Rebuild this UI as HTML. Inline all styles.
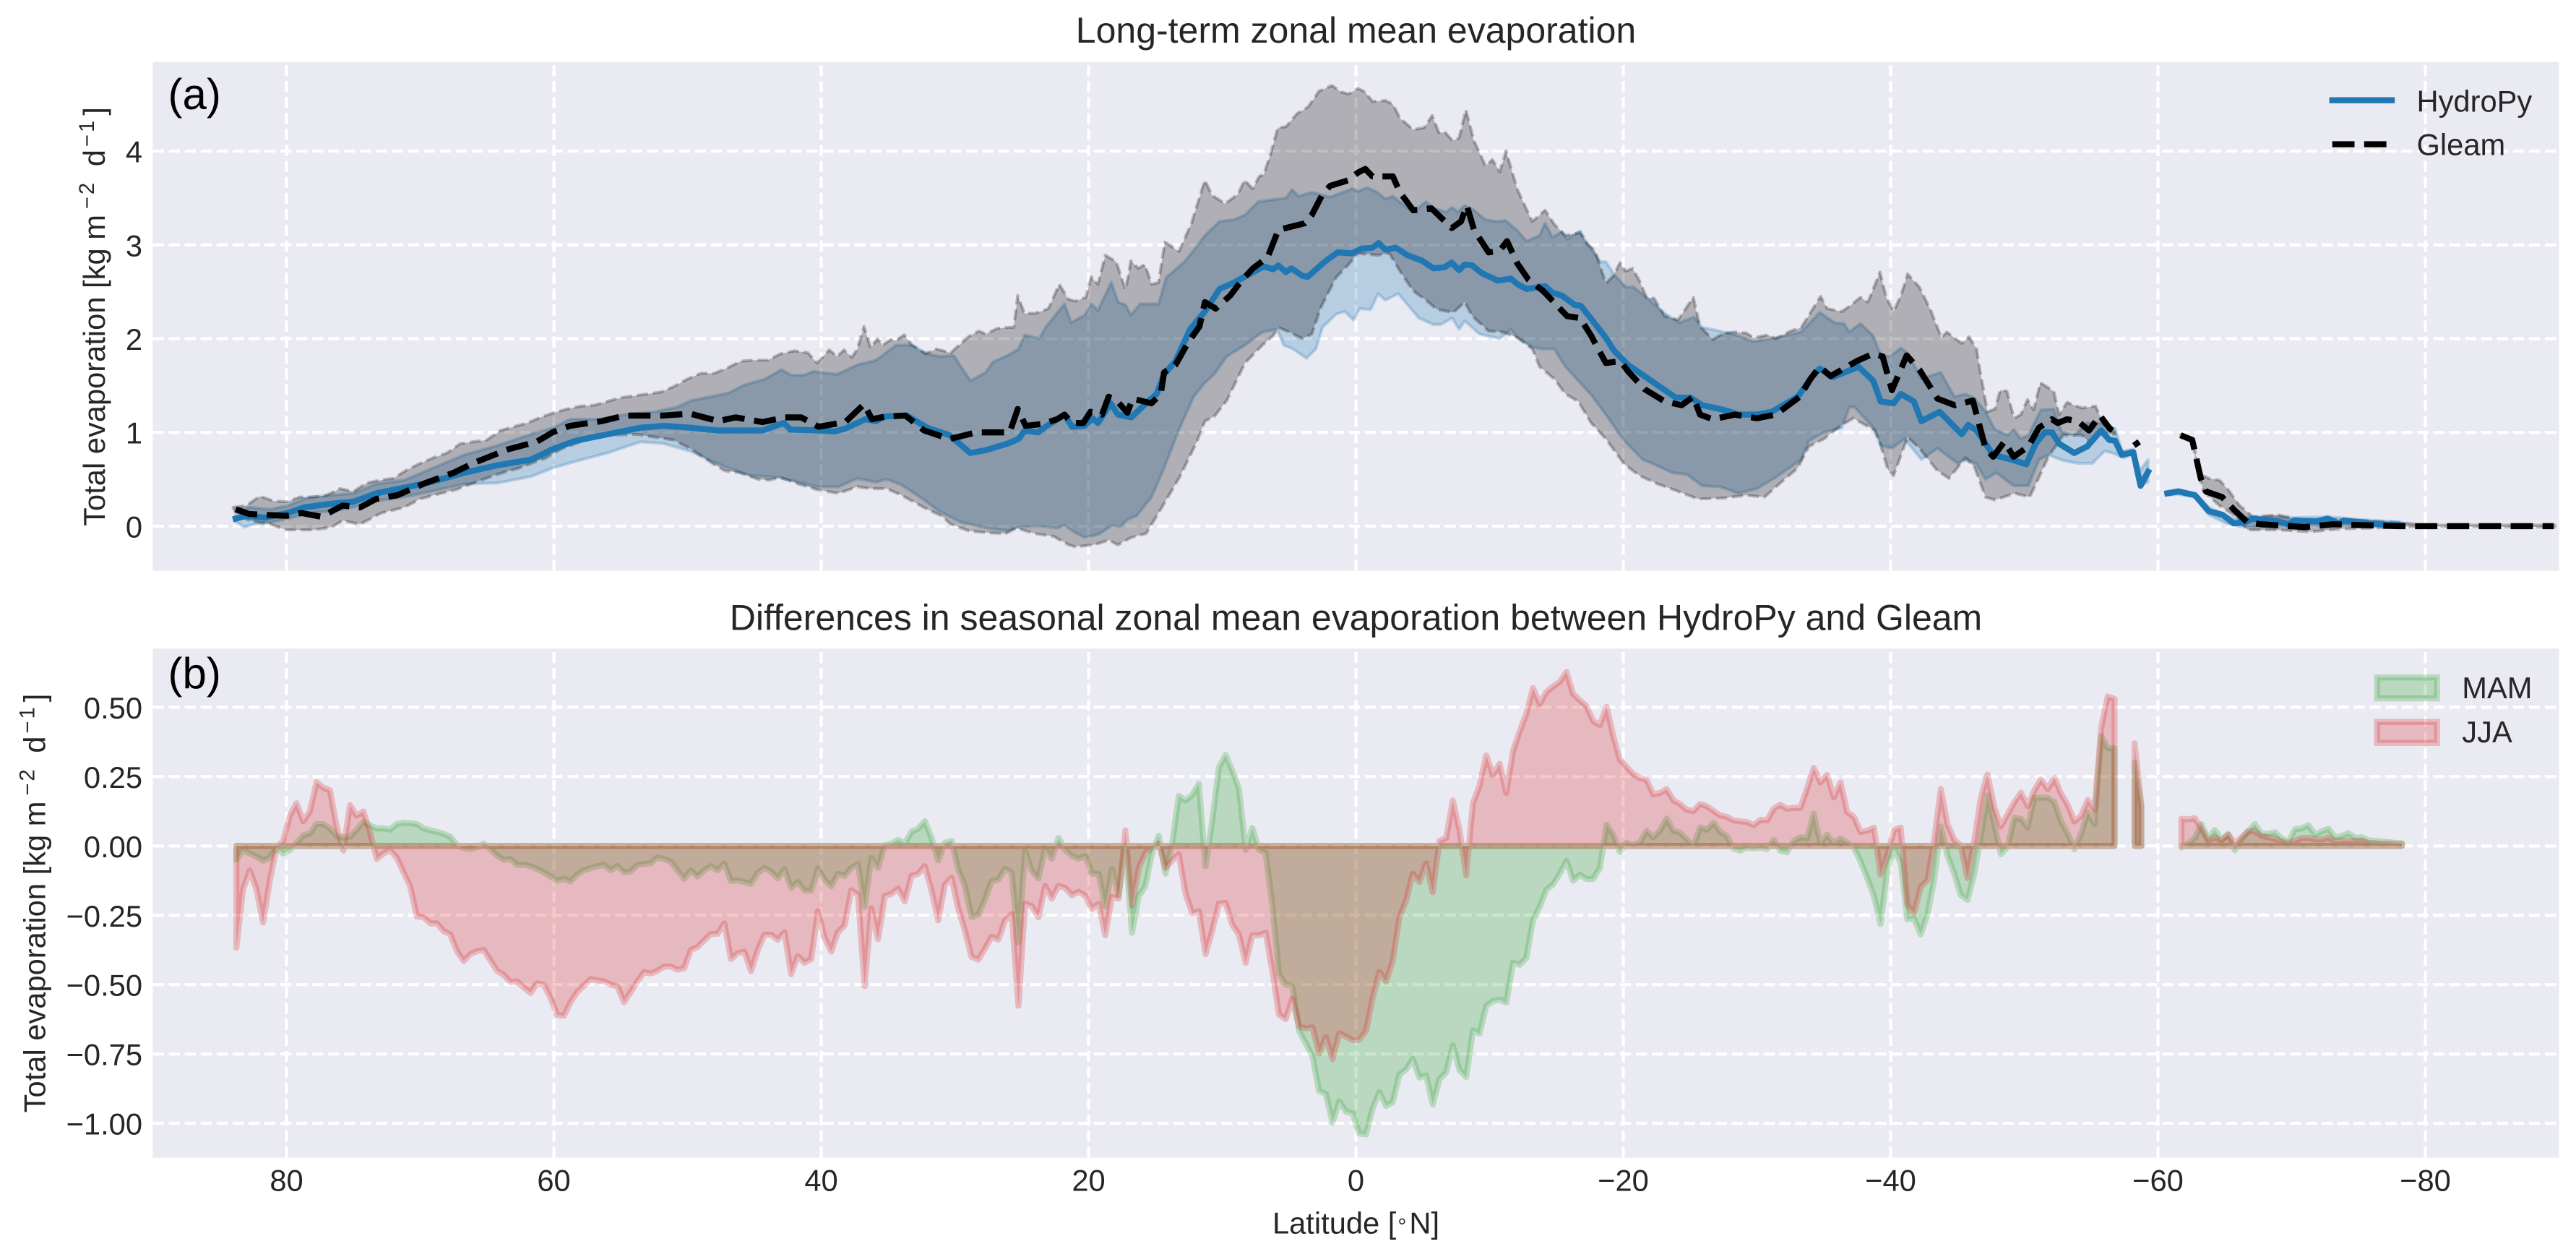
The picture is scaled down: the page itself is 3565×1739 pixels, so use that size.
<!DOCTYPE html>
<html lang="en">
<head>
<meta charset="utf-8">
<title>Zonal mean evaporation</title>
<style>
html,body{margin:0;padding:0;background:#fff}
svg{display:block}
text{font-family:"Liberation Sans",sans-serif;fill:#262626}
</style>
</head>
<body>
<svg id="fig" xmlns="http://www.w3.org/2000/svg" width="3565" height="1739" viewBox="0 0 3565 1739">
  <rect x="0" y="0" width="3565" height="1739" fill="#ffffff"/>
  <rect x="211.5" y="85.8" width="3330" height="704" fill="#eaeaf2"/>
  <rect x="211.5" y="897.4" width="3330" height="704.2" fill="#eaeaf2"/>
  <g id="gridA"></g>
  <g id="gridB"></g>
  <g id="marksA"></g>
  <g id="marksB"></g>
  <g id="ticks"></g>

  <text x="1876.5" y="59" font-size="50" text-anchor="middle">Long-term zonal mean evaporation</text>
  <text x="1876.5" y="871.5" font-size="50" text-anchor="middle">Differences in seasonal zonal mean evaporation between HydroPy and Gleam</text>
  <text x="232.5" y="151" font-size="60" style="fill:#000">(a)</text>
  <text x="232.5" y="952" font-size="60" style="fill:#000">(b)</text>
  <text transform="translate(145,438) rotate(-90)" font-size="41.67" text-anchor="middle">Total evaporation [kg m<tspan font-size="29.2" dy="-15" dx="8" style="letter-spacing:3px">−2</tspan><tspan dy="15" dx="8"> d</tspan><tspan font-size="29.2" dy="-15" dx="4" style="letter-spacing:3px">−1</tspan><tspan dy="15" dx="4">]</tspan></text>
  <text transform="translate(62.5,1249.5) rotate(-90)" font-size="41.67" text-anchor="middle">Total evaporation [kg m<tspan font-size="29.2" dy="-15" dx="8" style="letter-spacing:3px">−2</tspan><tspan dy="15" dx="8"> d</tspan><tspan font-size="29.2" dy="-15" dx="4" style="letter-spacing:3px">−1</tspan><tspan dy="15" dx="4">]</tspan></text>
  <text x="1876.5" y="1706.5" font-size="41.67" text-anchor="middle">Latitude [<tspan font-size="30" dx="2">°</tspan><tspan dx="4">N</tspan>]</text>

  <g>
    <line x1="3227.7" x2="3310" y1="138.7" y2="138.7" stroke="#1f77b4" stroke-width="8.33" stroke-linecap="square"/>
    <text x="3344.5" y="154.5" font-size="41.67">HydroPy</text>
    <line x1="3227.7" x2="3310" y1="199.6" y2="199.6" stroke="#000" stroke-width="8.33" stroke-dasharray="30.8 13.3"/>
    <text x="3344.5" y="214.5" font-size="41.67">Gleam</text>
  </g>
  <g>
    <rect x="3289.7" y="937.2" width="83" height="29" fill="#2ca02c" fill-opacity=".25" stroke="#2ca02c" stroke-opacity=".25" stroke-width="8.33"/>
    <text x="3407.3" y="966.2" font-size="41.67">MAM</text>
    <rect x="3289.7" y="998.7" width="83" height="29" fill="#d62728" fill-opacity=".25" stroke="#d62728" stroke-opacity=".25" stroke-width="8.33"/>
    <text x="3407.3" y="1027" font-size="41.67">JJA</text>
  </g>
</svg>

<script>
/* ---------- tick labels ---------- */
const latTicks = [80, 60, 40, 20, 0, -20, -40, -60, -80];
const yTicksA = [0, 1, 2, 3, 4];
const yTicksB = [0.5, 0.25, 0, -0.25, -0.5, -0.75, -1];

/* ---------- panel (a): Gleam upper band ---------- */
const gleamUpperLat = [
84,83,82,81,80,79,78,77,76,75,
74,73,72,71,70,69,68,67,66,65,
64,63,62,61,60,59,58,57,56,55,
54,53,52,51,50,49,48,47,46,45,
44,43,42,41,40.3,39.4,38.8,38.3,37.7,37.3,
36.8,36.3,35.8,35.4,34.8,34.4,33.8,33.2,32.2,31.4,
30.3,29.7,28.9,28.2,27.7,26.8,26,25.6,25.3,24.8,
24,23,22.2,21.5,21,20.2,19.8,19.3,18.75,17.93,
17.24,16.83,16.28,15.8,15.26,14.76,14.3,13.24,12.28,11.31,
10.76,9.79,8.83,8.33,7.72,7.23,6.9,6.34,5.85,5.24,
4.41,3.59,2.76,1.79,1.1,.55,-.14,-.69,-1.24,-2.2,
-2.76,-3.31,-4.28,-5.1,-5.71,-6.2,-6.68,-7.23,-7.72,-8.22,
-8.83,-9.71,-10.2,-10.76,-11.23,-12.08,-12.63,-13.19,-14.15,-14.84,
-15.67,-16.77,-17.32,-17.88,-18.7,-19.26,-19.75,-20.2,-20.7,-21.2,
-21.74,-22.3,-23.1,-24.1,-25.24,-25.74,-26.7,-27.53,-28.36,-29.2,
-29.74,-30.84,-31.39,-32.5,-33.32,-33.88,-34.76,-35.26,-36.36,-37.05,
-37.74,-38.3,-39.2,-39.67,-40.22,-40.77,-41.27,-42.15,-42.98,-43.8,
-44.2,-45.32,-45.87,-46.43,-46.7,-47.25,-47.8,-48.2,-48.7,-49.24,
-49.74,-50.24,-50.7,-51.2,-52.2,-52.6,-53.2,-54.3,-55.33,-55.95,
-56.8,null,-61.7,-62.56,-63.2,-63.8,-64.6,-65.25,-66.1,-67.1,
-69,-70.2,-71.86,-73.1,-75.2,-78,-80.1,-89.7];
const gleamUpperVal = [
.2,.22,.32,.27,.26,.31,.31,.33,.40,.37,
.46,.49,.51,.60,.67,.73,.78,.88,.90,.92,
1.02,1.06,1.10,1.16,1.21,1.25,1.28,1.29,1.33,1.37,
1.39,1.41,1.43,1.49,1.57,1.63,1.63,1.69,1.76,1.77,
1.77,1.84,1.87,1.85,1.74,1.88,1.81,1.88,1.8,1.89,
2.13,1.9,2,1.93,1.99,1.98,2.04,1.93,1.84,1.89,
1.85,1.93,2.03,2.08,2.05,2.11,2.12,2.12,2.46,2.27,
2.27,2.32,2.58,2.42,2.40,2.44,2.66,2.58,2.89,2.82,
2.52,2.83,2.75,2.79,2.58,2.6,3.03,2.93,3.24,3.69,
3.53,3.44,3.54,3.69,3.6,3.73,3.75,3.99,4.25,4.26,
4.40,4.47,4.64,4.70,4.63,4.61,4.67,4.63,4.53,4.54,
4.5,4.35,4.23,4.25,4.38,4.2,4.2,4.11,4.14,4.44,
4.11,3.84,3.91,3.78,4.0,3.59,3.42,3.25,3.37,3.22,
3.1,3.13,3.01,2.94,2.59,2.67,2.81,2.72,2.75,2.62,
2.44,2.43,2.24,2.2,2.44,2.13,1.99,2.06,2.07,2.06,
2.01,2.04,2.0,2.08,2.12,2.25,2.45,2.32,2.29,2.36,
2.44,2.39,2.71,2.44,2.29,2.46,2.69,2.55,2.31,2.01,
2.07,1.95,2.02,1.89,1.65,1.22,1.25,1.45,1.44,1.15,
1.19,1.35,1.24,1.53,1.44,1.19,1.32,1.26,1.28,1.08,
1.0,null,.98,.92,.55,.51,.49,.39,.22,.10,
.12,.08,.06,.07,.06,.04,.01,.01];

/* ---------- panel (a): Gleam lower band ---------- */
const gleamLowerLat = [
83.8,82.8,81.2,80,78,76.6,75.8,74.5,72.9,71.2,
70,68.98,67.3,66.2,64.3,62.6,61.3,60.7,59.34,57.4,
55.76,53.83,51.07,49.7,48.04,47.2,46.1,44.74,43.9,43.1,
41.7,40.33,38.7,37.3,36.34,35.1,34,32.07,31,30.3,
28.97,27.6,26.2,25.4,24,22.6,21.5,21,19.6,18.5,
17.8,16.8,15.7,14.6,13.2,11.9,11.3,10.6,9.66,8.3,
7,6.2,5.8,5,4,3.3,2.6,1.5,.55,-.14,
-1.66,-2.5,-3.3,-4.28,-5.24,-6.07,-7.3,-8.14,-8.7,-9.93,
-11,-12.08,-13.2,-13.74,-14.84,-15.67,-16.63,-17.6,-18.7,-20.08,
-21.2,-22.57,-23.94,-25.6,-27.53,-29.2,-30.56,-31.67,-33.05,-33.88,
-35,-36.36,-37.2,-38.84,-39.26,-39.8,-40.22,-41.27,-42.15,-43.5,
-44.36,-45.6,-46.3,-47.1,-47.8,-49.3,-50.4,-50.97,-51.8,-52.9,
-54.3,-55,-55.7,-56.8,null,-61.7,-62.56,-63,-63.4,-64.6,
-65.66,-66.7,-69,-71.45,-73.5,-76,-78,-80,-89.7];
const gleamLowerVal = [
.14,.06,.02,-.04,-.04,-.01,.06,.02,.14,.2,
.29,.33,.39,.45,.55,.62,.69,.72,.83,.93,
.97,.98,.92,.82,.66,.59,.57,.5,.49,.52,
.45,.39,.35,.42,.40,.40,.33,.18,.11,.02,
-.05,-.07,-.08,-.02,-.08,-.11,-.2,-.22,-.2,-.15,
-.2,-.12,-.08,.18,.52,.9,1.12,1.17,1.34,1.74,
1.93,2.03,2.12,2.07,2.0,2.05,2.34,2.65,2.79,2.91,
2.89,2.91,2.72,2.51,2.41,2.31,2.28,2.39,2.24,2.08,
2.07,2.01,1.89,1.7,1.57,1.41,1.33,1.1,.93,.66,
.54,.45,.38,.29,.30,.33,.31,.45,.62,.85,
.93,1.08,1.15,1.02,.86,.6,.54,.95,.83,.59,
.51,.73,.62,.31,.28,.35,.31,.48,.74,.97,
.97,.88,1.0,.98,null,.95,.9,.59,.37,.22,
.12,-.04,-.04,-.06,-.03,-.02,-.01,0,-.01];

/* ---------- panel (a): HydroPy upper band ---------- */
const hydroUpperLat = [
83.8,82.8,81.2,79.9,78.3,76.6,75,73.3,71.2,69.2,
66.7,64.2,61.7,60,58.8,56.6,54.66,52.45,50.8,49.7,
48.3,46.94,45.84,44.2,42.97,42.26,41.3,40.6,38.8,37.3,
35.9,34.4,33.17,32.07,31.2,30.1,28.83,27.7,27.17,26.07,
25.24,24.77,23.7,23.17,21.8,21.3,20.3,19.8,19.3,18.3,
17.8,17.24,16.83,16.14,15.3,14.76,14.2,12.83,12.14,11.3,
10.2,9.1,8.3,7.3,6.34,5.24,4.77,4.3,3.3,1.93,
.28,-.14,-.83,-1.5,-2.2,-2.76,-3.6,-4.28,-5.24,-5.8,
-6.76,-7.17,-7.6,-8.14,-8.83,-9.66,-10.5,-11.2,-12.08,-12.77,
-13.74,-14.15,-14.7,-15.4,-15.8,-16.77,-17.32,-18.3,-18.7,-19.4,
-20.2,-20.77,-21.74,-23.1,-24.2,-25.3,-25.9,-27.25,-28.36,-29.74,
-31.1,-33.3,-34.7,-35.8,-36.5,-36.9,-37.74,-38.7,-39.26,-39.94,
-40.77,-41.3,-42.3,-43.75,-44.77,-45.6,-46.3,-47.1,-47.8,-48.77,
-49.2,-49.74,-50.3,-51.25,-52.2,-52.8,-53.74,-54.7,-55.74,-56.8,
-57.3,-58.15,-58.65,-59.26,null,-60.7,-61.53,-62.77,-63.8,-65.66,
-67.1,-69,-70.2,-72.7,-75.2,-78.25];
const hydroUpperVal = [
.16,.2,.18,.22,.31,.33,.35,.45,.49,.61,
.76,.86,.98,1.05,1.14,1.14,1.19,1.22,1.27,1.34,
1.38,1.42,1.5,1.57,1.67,1.61,1.61,1.65,1.62,1.72,
1.77,1.93,1.93,1.84,1.81,1.82,1.55,1.64,1.75,1.82,
1.89,2.04,2.0,2.13,2.37,2.17,2.25,2.37,2.3,2.6,
2.39,2.36,2.25,2.37,2.37,2.37,2.65,2.82,2.94,3.1,
3.25,3.27,3.32,3.46,3.48,3.5,3.59,3.52,3.56,3.51,
3.6,3.57,3.61,3.57,3.49,3.52,3.42,3.35,3.46,3.39,
3.35,3.4,3.35,3.42,3.37,3.27,3.25,3.26,3.15,3.04,
3.1,3.23,3.08,3.14,3.06,3.15,3.01,2.82,2.82,2.67,
2.55,2.55,2.44,2.27,2.17,2.23,2.12,2.08,2.04,1.97,
2.0,2.07,2.28,2.17,2.16,2.07,2.16,2.03,1.82,1.81,
1.9,1.84,1.57,1.64,1.38,1.41,1.36,1.22,1.03,.97,
1.03,.93,.97,1.24,1.25,1.0,.97,1.1,1.1,1.04,
.8,.82,.59,.71,null,.37,.39,.35,.2,.08,
.1,.1,.09,.1,.07,.04];

/* ---------- panel (a): HydroPy lower band ---------- */
const hydroLowerLat = [
83.8,83.2,82.4,81.2,79.9,78.3,76.6,75,73.3,71.2,
69.2,66.7,64.2,61.7,60.1,58.4,56,53.5,51.8,49.8,
48.3,46.94,45.3,43.2,41.7,40.33,38.7,37.3,35.9,35.1,
34,32.3,31.2,29.5,27.6,26.07,25.24,23.7,22.35,21.8,
21,20.3,19.3,18.2,17.66,17.1,16.4,15.3,14.35,13.24,
12.14,11.3,10.6,9.66,8.3,7,5.9,5.4,4.7,3.7,
3,2.5,1.5,.83,.2,-.28,-1.1,-1.66,-2.2,-3.17,
-4.7,-5.8,-6.34,-7.2,-7.72,-8.14,-9.24,-10.76,-11.6,-12.08,
-13.2,-14,-14.84,-15.67,-16.77,-17.6,-18.7,-20.08,-21.46,-22.3,
-23.67,-24.77,-25.9,-27.25,-28.63,-30,-31.4,-33.3,-33.88,-35,
-36.36,-36.9,-37.3,-38.7,-39.26,-40.1,-41.05,-42.3,-43.5,-45,
-45.74,-46.43,-47.1,-47.9,-49.2,-50.3,-51.1,-51.8,-52.9,-54,
-55.1,-56,-56.6,-57.4,-58.2,-58.65,-59.26,null,-60.7,-61.53,
-62.77,-63.8,-65.25,-66.5,-69,-71.86,-75.2,-78.25];
const hydroLowerVal = [
.05,-.01,.02,.04,.08,.14,.16,.2,.27,.31,
.37,.45,.46,.53,.62,.69,.78,.9,.88,.8,
.7,.62,.54,.52,.47,.42,.42,.51,.47,.5,
.44,.28,.16,.04,-.02,-.05,-.01,0,-.02,.01,
-.07,-.12,-.09,.01,-.01,.07,.11,.31,.62,1.03,
1.38,1.53,1.62,1.81,1.93,2.07,2.1,1.93,1.89,1.79,
1.89,2.12,2.26,2.29,2.2,2.32,2.31,2.48,2.41,2.48,
2.22,2.15,2.15,2.22,2.1,2.19,2.05,2.0,2.1,2.01,
1.91,1.89,1.89,1.7,1.53,1.4,1.19,.91,.71,.66,
.57,.55,.43,.42,.35,.4,.52,.71,.91,1.0,
1.05,1.27,1.27,1.05,.86,.83,.93,.71,.83,.67,
.71,.66,.5,.57,.43,.43,.71,.76,.7,.67,
.67,.8,.78,.73,.76,.43,.47,null,.33,.34,
.31,.12,.02,-.01,0,.01,.01,0];

/* ---------- panel (a): mean lines ---------- */
const hydroMeanLat = [
83.8,83,81.6,79.9,78.7,76.6,75,73.3,71.2,69.2,
66.7,64.2,61.7,60.1,58.4,56,53.5,51.8,49.8,47.7,
46,44.4,42.8,42.3,40.2,39,38.2,36.7,35.9,35.2,
33.6,32.07,30.4,28.85,27.7,26.07,25.24,24.77,23.8,22.9,
21.8,21.24,20.3,19.7,19.3,18.35,17.8,16.8,15.7,14.9,
14.35,13.5,12.4,11.3,10.2,9.1,6.9,6.2,5.8,5.24,
4.83,4,3.6,2.34,1.38,.28,-.4,-1.24,-1.7,-2.2,
-3,-3.86,-4.97,-5.8,-6.6,-7.17,-7.72,-8.14,-8.7,-9.4,
-10.6,-11.6,-12.1,-12.77,-14.15,-14.7,-15.4,-16.36,-16.83,-18.7,
-19.26,-20.36,-22.3,-23.94,-25.05,-25.9,-27.53,-28.63,-30,-31.1,
-33.05,-34.15,-34.7,-35.67,-37.6,-38.7,-39.26,-40.22,-40.77,-41.74,
-42.3,-43.67,-45.32,-45.8,-46.43,-47.67,-49.05,-50.15,-50.84,-51.53,
-52.08,-52.6,-53.74,-54.7,-55.74,-56.36,-56.8,-57.3,-58.15,-58.7,
-59.26,null,-60.7,-61.53,-62.77,-63.8,-64.84,-65.66,-66.5,-67.1,
-69,-69.8,-70.2,-71.86,-72.7,-73.5,-73.9,-75.2,-76.6,-78.25];
const hydroMeanVal = [
.08,.11,.09,.14,.2,.24,.26,.35,.41,.47,
.57,.65,.71,.82,.91,.98,1.05,1.07,1.05,1.02,
1.02,1.02,1.10,1.03,1.02,1.01,1.04,1.14,1.12,1.17,
1.18,1.05,.97,.78,.81,.88,.93,1.02,1.0,1.09,
1.19,1.06,1.07,1.15,1.10,1.31,1.19,1.16,1.31,1.41,
1.62,1.76,2.10,2.29,2.53,2.6,2.77,2.74,2.78,2.71,
2.75,2.67,2.66,2.82,2.92,2.91,2.96,2.97,3.02,2.95,
2.97,2.89,2.83,2.75,2.76,2.81,2.73,2.79,2.78,2.7,
2.62,2.64,2.58,2.53,2.56,2.49,2.46,2.36,2.35,2.01,
1.88,1.72,1.53,1.37,1.37,1.29,1.24,1.19,1.19,1.22,
1.38,1.6,1.68,1.59,1.70,1.55,1.33,1.31,1.41,1.33,
1.12,1.22,.98,1.08,1.02,.76,.71,.66,.88,1.0,
1.0,.88,.78,.85,1.02,.92,.91,.76,.79,.43,
.58,null,.35,.37,.33,.16,.12,.03,.04,.08,
.05,.02,.06,.05,.08,.03,.06,.04,.02,.01];

const gleamMeanLat = [
83.8,82.8,81.6,80,78.9,77.4,75.8,74.5,73.3,71.7,
69.6,67.5,65.9,63.4,61.3,60.1,58.8,56.4,54.7,51.8,
49.8,47.7,46.4,44.4,42.7,41.5,40.2,38.2,36.8,36.2,
35.2,33.7,32.3,30.4,28.4,25.9,25.3,24.7,23.45,22.35,
21.8,21.24,20.4,19.86,19,18.5,17.9,17.1,16.7,15.3,
14.6,14.35,13.5,12.55,11.7,11.3,10.5,9.4,8.55,7.7,
6.6,5.8,3.85,3.3,2.5,1.93,.55,-.14,-.7,-1.24,
-2.76,-3.3,-4.28,-5.65,-7.17,-7.86,-8.3,-8.83,-9.93,-10.76,
-11.3,-12.08,-12.9,-14,-15.8,-16.77,-17.6,-18.7,-19.8,-20.36,
-21.6,-23.1,-24.36,-25.24,-25.74,-26.7,-28.36,-30,-31.4,-33.2,
-34,-34.7,-35.5,-37.46,-38.7,-39.4,-40.1,-41.2,-42.15,-43.5,
-44.8,-46.15,-47.1,-47.67,-48.5,-49.2,-50.3,-51.1,-52.07,-52.5,
-53.2,-54,-54.84,-55.66,-56.4,-56.6,null,-58.2,-58.6,null,
-61.7,-62.56,-63.2,-63.6,-64.8,-65.66,-66.7,-67.7,-71,-73.1,
-78,-89.6];
const gleamMeanVal = [
.18,.13,.12,.11,.14,.10,.22,.2,.29,.33,
.46,.57,.68,.82,.90,1.0,1.07,1.12,1.18,1.18,
1.2,1.12,1.16,1.11,1.16,1.16,1.06,1.11,1.30,1.14,
1.17,1.18,1.02,.93,1.0,1.0,1.25,1.07,1.09,1.14,
1.19,1.1,1.1,1.22,1.19,1.38,1.34,1.21,1.36,1.31,
1.41,1.64,1.72,1.96,2.13,2.39,2.32,2.46,2.62,2.75,
2.87,3.16,3.23,3.32,3.54,3.63,3.69,3.77,3.81,3.73,
3.73,3.56,3.37,3.39,3.18,3.25,3.42,3.16,2.92,2.94,
3.04,2.8,2.63,2.51,2.24,2.22,2.03,1.74,1.76,1.65,
1.46,1.33,1.29,1.38,1.19,1.14,1.19,1.15,1.19,1.38,
1.57,1.70,1.6,1.76,1.84,1.81,1.45,1.82,1.67,1.36,
1.29,1.34,.83,.74,.9,.74,.85,1.05,1.14,1.1,
1.14,1.12,1.02,1.18,1.04,1.02,null,.86,.9,null,
.97,.92,.51,.37,.31,.18,.04,.02,-.01,.02,
0,0];

/* ---------- panel (b): seasonal differences, 0.5 degree latitude grid ---------- */
const latStartsB = [83.75, -58.25, -61.75];
const latStepB = 0.5;

const mamSouthOf84 = [
-.05,-.015,-.027,-.038,-.053,-.042,-.005,-.027,-.015,.01,
.038,.045,.079,.079,.063,.036,.03,.033,.059,.086,
.074,.063,.063,.059,.079,.083,.082,.079,.063,.056,
.051,.044,.033,.003,-.008,-.012,-.005,.008,-.012,-.035,
-.05,-.047,-.068,-.068,-.073,-.083,-.095,-.11,-.125,-.118,
-.128,-.103,-.088,-.08,-.073,-.068,-.088,-.073,-.095,-.092,
-.069,-.065,-.062,-.042,-.047,-.057,-.088,-.118,-.088,-.11,
-.088,-.073,-.088,-.063,-.127,-.124,-.13,-.136,-.097,-.079,
-.092,-.117,-.084,-.151,-.13,-.16,-.162,-.081,-.122,-.146,
-.1,-.108,-.079,-.065,-.219,-.043,-.079,.002,.008,.022,
.008,.051,.062,.089,.029,-.052,.011,.018,-.084,-.144,
-.257,-.248,-.192,-.127,-.122,-.082,-.097,-.349,-.019,-.09,
-.117,-.009,-.046,.029,-.014,-.036,-.046,-.036,-.1,-.1,
-.219,-.084,-.176,-.003,-.313,-.181,-.144,-.025,.037,-.1,
.008,.18,.164,.184,.224,-.073,.089,.283,.328,.272,
.207,-.014,.065,-.014,-.025,-.214,-.462,-.5,-.505,-.667,
-.711,-.759,-.883,-.894,-.997,-.921,-.957,-.964,-1.037,-1.04,
-.946,-.887,-.937,-.924,-.824,-.806,-.768,-.835,-.827,-.932,
-.84,-.816,-.719,-.808,-.833,-.665,-.676,-.576,-.559,-.554,
-.565,-.421,-.428,-.403,-.266,-.219,-.158,-.138,-.1,-.054,
-.125,-.104,-.119,-.119,-.079,.076,.04,-.022,.011,.002,
.013,.054,.031,.056,.099,.054,.048,.024,0,.067,
.058,.083,.051,.035,-.009,-.017,-.006,-.009,-.006,-.011,
.022,-.017,-.023,.018,.031,.027,.116,.008,.04,.008,
.027,.011,-.006,-.056,-.116,-.181,-.281,-.086,-.008,-.06,
-.264,-.261,-.319,-.247,-.125,.07,-.034,-.099,-.177,-.194,
-.103,.036,.183,.079,-.03,-.003,.101,.098,.066,.174,
.174,.174,.157,.088,.044,-.012,.044,.122,.079,.396,
.352,.352];
const mamNear58S = [.3,.14];
const mamSouthOf62 = [
-.006,.01,.027,.079,.027,.057,.023,.04,-.016,.023,
.053,.079,.044,.043,.049,.027,.014,.06,.063,.075,
.04,.053,.062,.031,.036,.046,.029,.031,.02,.018,
.016,.014,.011,.01];

const jjaSouthOf84 = [
-.367,-.156,-.088,-.156,-.276,-.125,-.005,.018,.109,.154,
.089,.124,.23,.21,.2,.07,-.017,.147,.109,.124,
.048,-.047,-.027,-.015,-.042,-.095,-.145,-.254,-.257,-.279,
-.279,-.307,-.319,-.379,-.415,-.39,-.379,-.375,-.412,-.45,
-.465,-.491,-.488,-.51,-.53,-.495,-.5,-.548,-.609,-.612,
-.563,-.526,-.503,-.48,-.485,-.488,-.5,-.506,-.563,-.526,
-.488,-.455,-.46,-.45,-.435,-.435,-.446,-.44,-.375,-.364,
-.34,-.317,-.317,-.279,-.408,-.387,-.381,-.451,-.376,-.32,
-.32,-.338,-.311,-.462,-.397,-.421,-.408,-.235,-.33,-.381,
-.311,-.286,-.16,-.176,-.505,-.225,-.336,-.181,-.173,-.154,
-.2,-.108,-.1,-.073,-.16,-.268,-.14,-.114,-.225,-.306,
-.4,-.41,-.37,-.327,-.338,-.268,-.246,-.576,-.208,-.217,
-.257,-.144,-.19,-.144,-.151,-.178,-.165,-.179,-.227,-.208,
-.322,-.184,-.19,.056,-.214,-.079,-.025,-.005,.008,-.079,
-.052,-.03,-.171,-.244,-.235,-.39,-.306,-.208,-.205,-.284,
-.32,-.421,-.322,-.322,-.313,-.451,-.608,-.624,-.551,-.651,
-.657,-.654,-.748,-.689,-.768,-.675,-.687,-.7,-.698,-.667,
-.549,-.454,-.489,-.414,-.257,-.198,-.1,-.13,-.063,-.167,
.018,.029,.164,.056,-.106,.153,.218,.326,.256,.296,
.191,.342,.413,.477,.569,.512,.555,.575,.592,.627,
.548,.525,.504,.45,.436,.501,.396,.31,.285,.259,
.245,.238,.186,.191,.205,.164,.151,.13,.126,.151,
.143,.126,.11,.105,.092,.089,.086,.075,.094,.092,
.134,.148,.134,.137,.137,.207,.281,.229,.256,.175,
.229,.122,.105,.05,.055,.066,-.103,-.034,.057,.066,
-.212,-.242,-.147,-.125,.018,.205,.079,.023,.001,-.116,
.018,.174,.257,.14,.07,.114,.157,.192,.144,.2,
.24,.205,.246,.188,.148,.088,.109,.166,.131,.426,
.539,.53];
const jjaNear58S = [.37,.148];
const jjaSouthOf62 = [
.098,.096,.1,.062,.018,.031,.018,.043,.008,.031,
.053,.053,.036,.031,.025,.016,.011,.018,.029,.029,
.024,.023,.031,.016,.018,.018,.018,.018,.011,.01,
.008,.008,.008,.007];

/* ---------- axis functions ---------- */
const NS = 'http://www.w3.org/2000/svg';
const xLat = lat => 1876.5 - 18.5 * lat;
const yA = v => 727.9 - 129.7 * v;
const yB = v => 1170.3 - 383.8 * v;
const LEFT = 211.5, RIGHT = 3541.5;
const TOP_A = 85.8, BOTTOM_A = 789.8, TOP_B = 897.4, BOTTOM_B = 1601.6;

function make(parentId, tag, attrs) {
  const el = document.createElementNS(NS, tag);
  for (const k in attrs) el.setAttribute(k, attrs[k]);
  document.getElementById(parentId).appendChild(el);
  return el;
}
function segments(lats, vals, yFn) {
  const out = [];
  let cur = [];
  const n = Math.min(lats.length, vals.length);
  for (let i = 0; i < n; i++) {
    if (lats[i] === null || vals[i] === null) {
      if (cur.length) out.push(cur);
      cur = [];
    } else {
      cur.push([xLat(lats[i]), yFn(vals[i])]);
    }
  }
  if (cur.length) out.push(cur);
  return out;
}
const ptsStr = pts => pts.map(p => p[0].toFixed(1) + ',' + p[1].toFixed(1)).join(' ');
const fmtMinus = s => String(s).replace('-', '\u2212');

/* ---------- grid ---------- */
const gridStyle = {stroke: '#ffffff', 'stroke-width': 4.17, 'stroke-dasharray': '15.4 6.67', fill: 'none'};
latTicks.forEach(t => {
  const a = make('gridA', 'line', {x1: xLat(t), x2: xLat(t), y1: BOTTOM_A, y2: TOP_A, ...gridStyle});
  
  
  const b = make('gridB', 'line', {x1: xLat(t), x2: xLat(t), y1: BOTTOM_B, y2: TOP_B, ...gridStyle});
  
  
  const lab = make('ticks', 'text', {x: xLat(t), y: 1647.5, 'font-size': 41.67, 'text-anchor': 'middle'});
  lab.textContent = fmtMinus(t);
  
  
});
yTicksA.forEach(t => {
  const g = make('gridA', 'line', {x1: LEFT, x2: RIGHT, y1: yA(t), y2: yA(t), ...gridStyle});
  
  
  const lab = make('ticks', 'text', {x: 197, y: yA(t) + 15.5, 'font-size': 41.67, 'text-anchor': 'end'});
  lab.textContent = fmtMinus(t);
  
  
});
yTicksB.forEach(t => {
  const g = make('gridB', 'line', {x1: LEFT, x2: RIGHT, y1: yB(t), y2: yB(t), ...gridStyle});
  
  
  const lab = make('ticks', 'text', {x: 197, y: yB(t) + 15.5, 'font-size': 41.67, 'text-anchor': 'end'});
  lab.textContent = fmtMinus(t.toFixed(2));
  
  
});

/* ---------- panel (a) bands ---------- */
function band(upLat, upVal, loLat, loVal, style, name) {
  const ups = segments(upLat, upVal, yA);
  const los = segments(loLat, loVal, yA);
  ups.forEach((u, i) => {
    if (!los[i]) return;
    const poly = make('marksA', 'polygon', {points: ptsStr(u.concat(los[i].slice().reverse())), ...style});
    
    
  });
}
band(hydroUpperLat, hydroUpperVal, hydroLowerLat, hydroLowerVal,
  {fill: '#1f77b4', 'fill-opacity': .25, stroke: '#1f77b4', 'stroke-opacity': .25, 'stroke-width': 4.17, 'stroke-linejoin': 'round'},
  'hydropy-range-band');
band(gleamUpperLat, gleamUpperVal, gleamLowerLat, gleamLowerVal,
  {fill: '#000000', 'fill-opacity': .25, stroke: '#000000', 'stroke-opacity': .25, 'stroke-width': 4.17, 'stroke-dasharray': '15.4 6.67', 'stroke-linejoin': 'round'},
  'gleam-range-band');

/* ---------- panel (a) mean lines ---------- */
segments(hydroMeanLat, hydroMeanVal, yA).forEach(seg => {
  const l = make('marksA', 'polyline', {points: ptsStr(seg), fill: 'none', stroke: '#1f77b4', 'stroke-width': 8.33, 'stroke-linejoin': 'round', 'stroke-linecap': 'square'});
  
  
});
segments(gleamMeanLat, gleamMeanVal, yA).forEach(seg => {
  const l = make('marksA', 'polyline', {points: ptsStr(seg), fill: 'none', stroke: '#000000', 'stroke-width': 8.33, 'stroke-linejoin': 'round', 'stroke-dasharray': '30.8 13.3'});
  
  
});

/* ---------- panel (b) filled differences ---------- */
function areaB(values, startLat, color, name) {
  const pts = values.map((v, i) => [xLat(startLat - i * latStepB), yB(v)]);
  const x0 = pts[0][0], x1 = pts[pts.length - 1][0];
  const all = [[x0, yB(0)]].concat(pts, [[x1, yB(0)]]);
  const poly = make('marksB', 'polygon', {points: ptsStr(all), fill: color, 'fill-opacity': .25, stroke: color, 'stroke-opacity': .25, 'stroke-width': 8.33, 'stroke-linejoin': 'round'});
  
  
}
[mamSouthOf84, mamNear58S, mamSouthOf62].forEach((vals, i) => areaB(vals, latStartsB[i], '#2ca02c', 'mam-difference-area'));
[jjaSouthOf84, jjaNear58S, jjaSouthOf62].forEach((vals, i) => areaB(vals, latStartsB[i], '#d62728', 'jja-difference-area'));
</script>
</body>
</html>
